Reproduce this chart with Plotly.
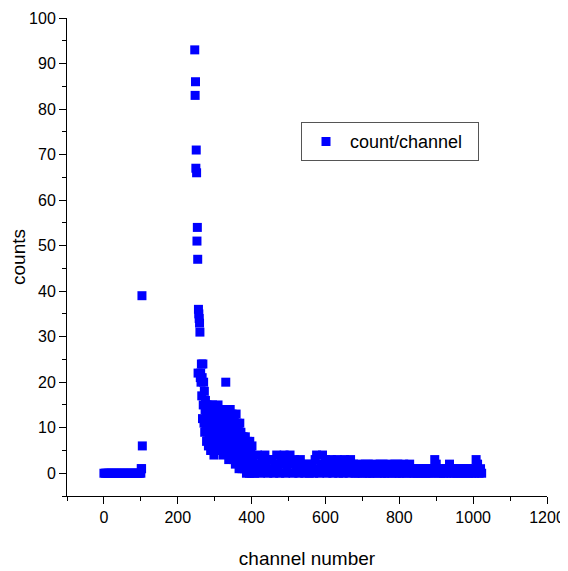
import plotly.graph_objects as go

# ---- data ----
low_channels = [0, 4, 8, 12, 16, 20, 24, 28, 32, 36, 40, 44, 48, 52, 56, 60, 64, 68, 72, 76,
                80, 84, 88, 92, 96, 100, 101, 102, 103, 104]
low_counts = [0, 0, 0, 0, 0, 0, 0, 0, 0, 0, 0, 0, 0, 0, 0, 0, 0, 0, 0, 0,
              0, 0, 0, 0, 0, 0, 1, 1, 39, 6]

peak_channels = [246, 247, 248, 249, 250, 251, 252, 253, 254, 255, 256, 257, 258, 259, 260, 261]
peak_counts = [93, 83, 86, 67, 71, 66, 51, 54, 47, 22, 36, 35, 34, 33, 31, 21]

decay_channels = [262, 263, 264, 265, 266, 267, 268, 269, 270, 271, 272, 273, 274, 275, 276, 277,
                  278, 279, 280, 281, 282, 283, 284, 285, 286, 287, 288, 289, 290, 291, 292, 293,
                  294, 295, 296, 297, 298, 299, 300, 301, 302, 303, 304, 305, 306, 307, 308, 309,
                  310, 311, 312, 313, 314, 315, 316, 317, 318, 319, 320, 321, 322, 323, 324, 325,
                  326, 327, 328, 329, 330, 331, 332, 333, 334, 335, 336, 337, 338, 339, 340, 341,
                  342, 343, 344, 345, 346, 347, 348, 349, 350, 351, 352, 353, 354, 355, 356, 357,
                  358, 359, 360, 361, 362, 363, 364, 365, 366, 367, 368, 369, 370, 371, 372, 373,
                  374, 375, 376, 377, 378, 379, 380, 381, 382, 383, 384, 385, 386, 387, 388, 389,
                  390, 391, 392, 393, 394, 395, 396, 397, 398, 399, 400, 401, 402, 403]
decay_counts = [22, 20, 24, 17, 21, 12, 24, 15, 20, 11, 18, 9, 14, 16, 10, 13,
                7, 15, 12, 9, 14, 6, 11, 15, 8, 13, 10, 5, 14, 12, 7, 9,
                15, 11, 6, 13, 4, 10, 12, 8, 14, 9, 11, 6, 13, 10, 7, 15,
                9, 12, 5, 11, 8, 13, 10, 6, 12, 9, 14, 7, 11, 4, 10, 13,
                8, 6, 12, 9, 20, 11, 7, 14, 5, 10, 13, 8, 3, 11, 9, 6,
                14, 12, 4, 10, 7, 13, 5, 9, 11, 3, 8, 12, 6, 10, 2, 7,
                13, 9, 4, 11, 6, 3, 10, 8, 1, 5, 11, 7, 2, 9, 4, 8,
                1, 6, 3, 8, 5, 2, 7, 1, 4, 8, 3, 6, 0, 5, 2, 7,
                4, 1, 6, 3, 0, 7, 2, 5, 1, 4, 0, 6, 3, 1]

tail_channels = [404, 408, 412, 416, 420, 424, 428, 432, 436, 440, 444, 448, 452, 456, 460, 464,
                 468, 472, 476, 480, 484, 488, 492, 496, 500, 504, 508, 512, 516, 520, 524, 528,
                 532, 536, 540, 544, 548, 552, 556, 560, 564, 568, 572, 576, 580, 584, 588, 592,
                 596, 600, 604, 608, 612, 616, 620, 624, 628, 632, 636, 640, 644, 648, 652, 656,
                 660, 664, 668, 672, 676, 680, 684, 688, 692, 696, 700, 704, 708, 712, 716, 720,
                 724, 728, 732, 736, 740, 744, 748, 752, 756, 760, 764, 768, 772, 776, 780, 784,
                 788, 792, 796, 800, 804, 808, 812, 816, 820, 824, 828, 832, 836, 840, 844, 848,
                 852, 856, 860, 864, 868, 872, 876, 880, 884, 888, 892, 896, 900, 904, 908, 912,
                 916, 920, 924, 928, 932, 936, 940, 944, 948, 952, 956, 960, 964, 968, 972, 976,
                 980, 984, 988, 992, 996, 1000, 1004, 1008, 1012, 1016, 1020, 1023]
tail_counts = [3, 0, 1, 4, 2, 0, 3, 1, 4, 2, 0, 3, 1, 3, 0, 2,
               4, 1, 0, 3, 2, 4, 0, 1, 3, 4, 2, 0, 3, 1, 2, 0,
               3, 1, 2, 0, 1, 2, 0, 1, 2, 0, 3, 4, 1, 0, 2, 4,
               1, 3, 0, 2, 1, 3, 0, 2, 1, 3, 0, 2, 1, 0, 3, 1,
               2, 0, 3, 1, 2, 0, 1, 0, 2, 1, 0, 1, 2, 0, 2, 0,
               1, 0, 2, 1, 0, 1, 2, 0, 2, 0, 1, 0, 2, 1, 0, 1,
               2, 0, 2, 0, 1, 0, 2, 1, 0, 1, 2, 0, 1, 0, 1, 0,
               1, 0, 1, 0, 1, 0, 1, 0, 1, 0, 1, 3, 2, 0, 1, 0,
               1, 0, 1, 0, 1, 2, 0, 1, 0, 1, 0, 1, 0, 1, 0, 1,
               0, 1, 0, 1, 0, 1, 0, 3, 2, 0, 1, 0]

x_ticks = [0, 200, 400, 600, 800, 1000, 1200]
y_ticks = [0, 10, 20, 30, 40, 50, 60, 70, 80, 90, 100]

channels = low_channels + peak_channels + decay_channels + tail_channels
counts = low_counts + peak_counts + decay_counts + tail_counts

FONT = "Liberation Sans Narrow, Arial Narrow, Liberation Sans, Arial, sans-serif"

fig = go.Figure()
fig.add_trace(go.Scatter(
    x=channels, y=counts, mode="markers", name="count/channel\u00a0\u00a0",
    marker=dict(symbol="square", size=9, color="#0000ff", line=dict(width=0)),
))

axis_common = dict(
    showline=True, linecolor="black", linewidth=1, mirror=False,
    showgrid=False, zeroline=False, automargin=False,
    ticks="outside", ticklen=7, tickwidth=1, tickcolor="black",
    tickfont=dict(family=FONT, size=16, color="black"),
)

fig.update_xaxes(
    range=[-100, 1200], tickvals=x_ticks,
    minor=dict(dtick=100, tick0=0, ticks="outside", ticklen=4, tickcolor="black", showgrid=False),
    title=dict(text="channel number", font=dict(family=FONT, size=19, color="black"), standoff=26),
    **axis_common,
)
fig.update_yaxes(
    range=[-5, 100], tickvals=y_ticks,
    minor=dict(dtick=5, tick0=0, ticks="outside", ticklen=4, tickcolor="black", showgrid=False),
    title=dict(text="counts", font=dict(family=FONT, size=19, color="black"), standoff=0),
    **axis_common,
)

# the page body adds an 8px margin, so the figure is 8px smaller than the window
fig.update_layout(
    width=560, height=563,
    margin=dict(l=59, r=21, t=10, b=75),
    paper_bgcolor="white", plot_bgcolor="white",
    showlegend=True,
    legend=dict(
        x=0.4875, y=0.782, xanchor="left", yanchor="top",
        bordercolor="#555555", borderwidth=1, bgcolor="white",
        itemwidth=38,
        font=dict(family=FONT, size=18, color="black"),
    ),
)

fig.write_html("out.html")
